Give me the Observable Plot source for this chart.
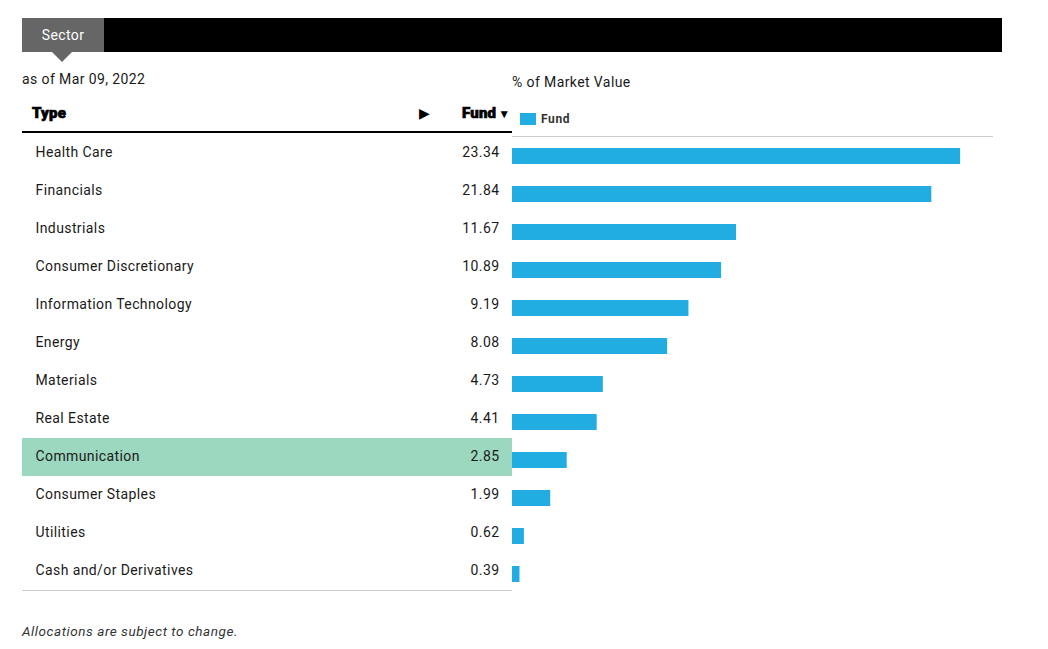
<!DOCTYPE html>
<html>
<head>
<meta charset="utf-8">
<script src="https://cdn.jsdelivr.net/npm/d3@7"></script>
<script src="https://cdn.jsdelivr.net/npm/@observablehq/plot@0.6"></script>
<style>
  html, body { margin: 0; padding: 0; background: #fff; }
  body { width: 1048px; height: 649px; position: relative; overflow: hidden;
         font-family: Roboto, "Noto Sans", sans-serif; color: #1a1a1a; letter-spacing: 0.4px; }
  .abs { position: absolute; white-space: nowrap; }
  #topbar { left: 22px; top: 18px; width: 980px; height: 34px; background: #000; }
  #tab { left: 22px; top: 18px; width: 82px; height: 34px; background: #666; color: #fff;
         font-size: 14px; line-height: 34px; text-align: center; }
  #tabArrow { left: 52px; top: 52px; width: 0; height: 0;
         border-left: 10px solid transparent; border-right: 10px solid transparent; border-top: 10px solid #666; }
  #asof { left: 22px; top: 70px; font-size: 14px; line-height: 18px; }
  #mv { left: 512px; top: 73px; font-size: 14px; line-height: 18px; }
  #hType { left: 32px; top: 103px; font-size: 15px; font-weight: 900; line-height: 20px; color: #000;
           -webkit-text-stroke: 0.7px #000; letter-spacing: 0.2px; }
  #hArrow { left: 419px; top: 105px; font-size: 14px; line-height: 16px; color: #000; }
  #hFund { left: 462px; top: 103px; font-size: 15px; font-weight: 900; line-height: 20px; color: #000;
           -webkit-text-stroke: 0.7px #000; letter-spacing: 0.2px; }
  #hFund span { font-size: 12px; margin-left: 2px; -webkit-text-stroke: 0; }
  #hLine { left: 22px; top: 131px; width: 490px; height: 2px; background: #000; }
  #legSw { left: 520px; top: 113px; width: 16px; height: 12px; background: #22ade2; }
  #legTx { left: 541px; top: 111px; font-size: 12px; font-weight: 700; line-height: 16px; color: #333; letter-spacing: 0.6px; }
  #bLine { left: 22px; top: 590px; width: 490px; height: 1px; background: #ccc; }
  #foot { left: 22px; top: 622px; font-size: 13.5px; font-style: italic; line-height: 18px; color: #333; letter-spacing: 0.55px; }
  #chart { left: 0; top: 134px; }
</style>
</head>
<body>
<div id="topbar" class="abs"></div>
<div id="tab" class="abs">Sector</div>
<div id="tabArrow" class="abs"></div>
<div id="asof" class="abs">as of Mar 09, 2022</div>
<div id="mv" class="abs">% of Market Value</div>
<div id="hType" class="abs">Type</div>
<div id="hArrow" class="abs">▶</div>
<div id="hFund" class="abs">Fund<span>▼</span></div>
<div id="hLine" class="abs"></div>
<div id="legSw" class="abs"></div>
<div id="legTx" class="abs">Fund</div>
<div id="chart" class="abs"></div>
<div id="bLine" class="abs"></div>
<div id="foot" class="abs">Allocations are subject to change.</div>
<script>
const sectors = ["Health Care", "Financials", "Industrials", "Consumer Discretionary",
  "Information Technology", "Energy", "Materials", "Real Estate", "Communication",
  "Consumer Staples", "Utilities", "Cash and/or Derivatives"];
const fundValues = [23.34, 21.84, 11.67, 10.89, 9.19, 8.08, 4.73, 4.41, 2.85, 1.99, 0.62, 0.39];
const valueLabels = ["23.34", "21.84", "11.67", "10.89", "9.19", "8.08", "4.73", "4.41", "2.85", "1.99", "0.62", "0.39"];
const highlighted = ["Communication"];

const data = sectors.map((s, i) => ({type: s, value: fundValues[i], label: valueLabels[i]}));

const chart = Plot.plot({
  width: 1048,
  height: 470,
  marginLeft: 512,
  marginRight: 56,
  marginTop: 0,
  marginBottom: 14,
  style: {fontFamily: "Roboto, 'Noto Sans', sans-serif", fontSize: "14px", color: "#1a1a1a", background: "transparent", overflow: "visible", letterSpacing: "0.4px"},
  x: {domain: [0, 25], axis: null},
  y: {domain: sectors, axis: null, paddingInner: 0, paddingOuter: 0},
  marks: [
    Plot.cell(data.filter(d => highlighted.includes(d.type)), {y: "type", fill: "#9cd7bf", insetLeft: -490, insetRight: 480}),
    Plot.frame({anchor: "top", stroke: "#cccccc", dy: 2}),
    Plot.text(data, {y: "type", text: "type", frameAnchor: "left", dx: -477, dy: -1, textAnchor: "start", fill: "#1a1a1a", fontSize: 14}),
    Plot.text(data, {y: "type", text: "label", frameAnchor: "left", dx: -13, dy: -1, textAnchor: "end", fill: "#1a1a1a", fontSize: 14}),
    Plot.barX(data, {x: "value", y: "type", fill: "#22ade2", insetTop: 14, insetBottom: 8})
  ]
});
document.getElementById("chart").appendChild(chart);
</script>
</body>
</html>
